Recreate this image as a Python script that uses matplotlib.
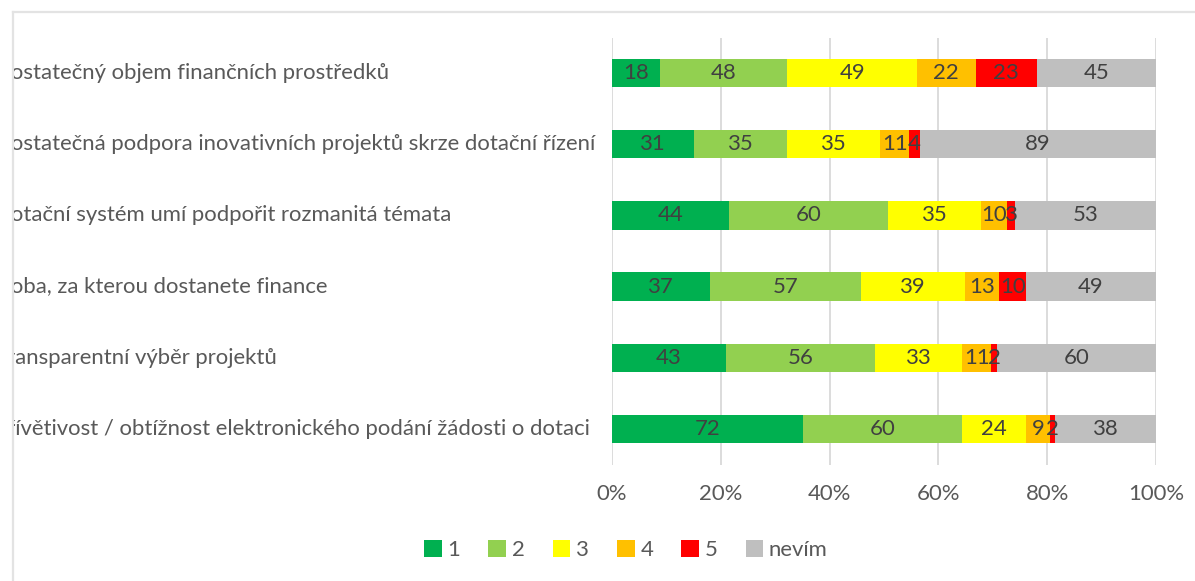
import matplotlib
matplotlib.use("Agg")
import matplotlib.pyplot as plt
import numpy as np
from matplotlib.transforms import Bbox, TransformedBbox, blended_transform_factory
from matplotlib.lines import Line2D
from matplotlib.patches import Patch

categories = [
    "Dostatečný objem finančních prostředků",
    "Dostatečná podpora inovativních projektů skrze dotační řízení",
    "Dotační systém umí podpořit rozmanitá témata",
    "Doba, za kterou dostanete finance",
    "Transparentní výběr projektů",
    "Přívětivost / obtížnost elektronického podání žádosti o dotaci",
]
series_names = ["1", "2", "3", "4", "5", "nevím"]
s1 = [18, 31, 44, 37, 43, 72]
s2 = [48, 35, 60, 57, 56, 60]
s3 = [49, 35, 35, 39, 33, 24]
s4 = [22, 11, 10, 13, 11, 9]
s5 = [23, 4, 3, 10, 2, 2]
s_nevim = [45, 89, 53, 49, 60, 38]
xtick_labels = ["0%", "20%", "40%", "60%", "80%", "100%"]

colors = ["#00B050", "#92D050", "#FFFF00", "#FFC000", "#FF0000", "#BFBFBF"]
FONT = "Lato"
FS = 15.9

W, H = 1195, 581
fig = plt.figure(figsize=(W / 100, H / 100), dpi=100)
fig.patch.set_facecolor("white")
ax = fig.add_axes([612 / W, 1 - 464.5 / H, (1156 - 612) / W, (464.5 - 37.5) / H])

data = np.array([s1, s2, s3, s4, s5, s_nevim], dtype=float)
totals = data.sum(axis=0)
pct = data / totals * 100
y = np.arange(len(categories))
left = np.zeros(len(categories))
for i, name in enumerate(series_names):
    bars = ax.barh(y, pct[i], left=left, height=0.40, color=colors[i], label=name,
                   edgecolor="none", zorder=3)
    for j, b in enumerate(bars):
        cx = left[j] + pct[i][j] / 2
        ax.text(cx, y[j], f"{int(data[i][j])}", ha="center", va="center",
                fontsize=FS, color="#404040", family=FONT, zorder=4)
    left += pct[i]

ax.set_xlim(0, 100)
ax.set_ylim(len(categories) - 0.5, -0.5)
ax.set_xticks([0, 20, 40, 60, 80, 100])
ax.set_xticklabels(xtick_labels, fontsize=FS, color="#595959", family=FONT)
ax.set_yticks(y)
ax.set_yticklabels([])
ax.tick_params(axis="both", length=0)
ax.tick_params(axis="x", pad=14)
for sp in ax.spines.values():
    sp.set_visible(False)
ax.xaxis.grid(True, color="#D9D9D9", linewidth=1.3, zorder=0)
ax.set_axisbelow(True)

# category labels: left aligned, starting slightly outside the visible chart area (clipped as in the reference)
clip = TransformedBbox(Bbox([[13.5 / W, 0], [1, 1]]), fig.transFigure)
trans = blended_transform_factory(fig.transFigure, ax.transData)
for j, cat in enumerate(categories):
    t = fig.text(-6 / W, y[j], cat, transform=trans, ha="left", va="center",
                 fontsize=FS, color="#595959", family=FONT)
    t.set_clip_on(True)
    t.set_clip_box(clip)

handles = [Patch(facecolor=c, edgecolor="none") for c in colors]
leg = fig.legend(handles, series_names, loc="center", bbox_to_anchor=(626 / W, 1 - 550 / H),
                 ncol=6, frameon=False, handlelength=0.8, handleheight=0.8,
                 handletextpad=0.25, columnspacing=1.28,
                 prop={"family": FONT, "size": FS})
for t in leg.get_texts():
    t.set_color("#595959")

# chart area border (top and left)
fig.add_artist(Line2D([13 / W, 1], [1 - 12 / H, 1 - 12 / H], transform=fig.transFigure,
                      color="#E3E3E3", linewidth=1.6))
fig.add_artist(Line2D([13 / W, 13 / W], [0, 1 - 12 / H], transform=fig.transFigure,
                      color="#E3E3E3", linewidth=1.6))

fig.savefig("out.png", dpi=100, facecolor="white")
